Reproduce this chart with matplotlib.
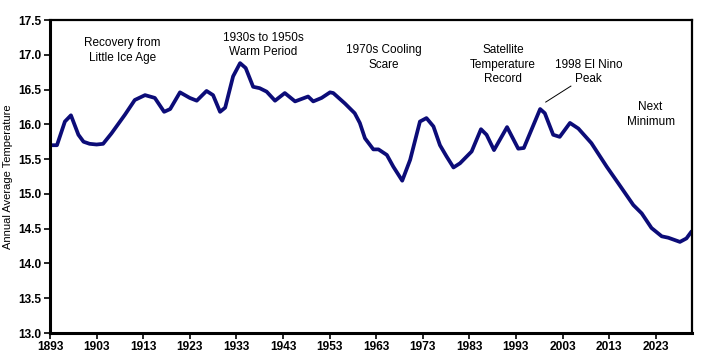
import matplotlib.pyplot as plt

plt.rcParams['font.family'] = ['Liberation Sans', 'DejaVu Sans']

# values
years = [1893, 1894.5, 1896.2, 1897.5, 1899.1, 1900.2, 1901.5, 1903, 1904.4,
         1906.2, 1909.1, 1911.2, 1913.4, 1915.5, 1917.5, 1918.8, 1920.9, 1923,
         1924.5, 1926.6, 1928, 1929.5, 1930.6, 1932.3, 1933.8, 1935, 1936.6,
         1938, 1939.5, 1941.3, 1943.4, 1945.6, 1948.4, 1949.5, 1951.3, 1953.1,
         1953.8, 1956.3, 1958.4, 1959.5, 1960.6, 1962.4, 1963.5, 1965.3, 1966.7,
         1968.6, 1970.3, 1972.4, 1973.8, 1975.3, 1976.7, 1978.1, 1979.6, 1981,
         1983.5, 1985.5, 1986.7, 1988.3, 1991.1, 1993.5, 1994.7, 1998.2, 1999.2,
         2001, 2002.4, 2004.6, 2006.4, 2009.2, 2012.5, 2015, 2018.2, 2020,
         2022.1, 2024.3, 2025.7, 2028.2, 2029.6, 2030.7]
temps = [15.70, 15.70, 16.04, 16.13, 15.85, 15.75, 15.72, 15.71, 15.72,
         15.87, 16.14, 16.35, 16.42, 16.38, 16.18, 16.22, 16.46, 16.38,
         16.34, 16.48, 16.42, 16.18, 16.24, 16.69, 16.88, 16.81, 16.54,
         16.52, 16.47, 16.34, 16.45, 16.33, 16.40, 16.33, 16.38, 16.46,
         16.45, 16.30, 16.16, 16.02, 15.80, 15.64, 15.64, 15.56, 15.39,
         15.19, 15.49, 16.04, 16.09, 15.97, 15.70, 15.54, 15.38, 15.44,
         15.61, 15.93, 15.85, 15.63, 15.96, 15.65, 15.66, 16.22, 16.16,
         15.85, 15.82, 16.02, 15.94, 15.73, 15.39, 15.15, 14.84, 14.72,
         14.51, 14.39, 14.37, 14.31, 14.36, 14.46]

xticks = list(range(1893, 2024, 10))
yticks = [13.0, 13.5, 14.0, 14.5, 15.0, 15.5, 16.0, 16.5, 17.0, 17.5]

fig = plt.figure(figsize=(7.02, 3.56), dpi=100)
ax = fig.add_axes([0.0712, 0.0646, 0.9146, 0.8792])

ax.plot(years, temps, color='#0c0c78', lw=2.7, solid_capstyle='round', solid_joinstyle='round')

ax.set_xlim(1893, 2030.8)
ax.set_ylim(13.0, 17.5)
ax.set_xticks(xticks)
ax.set_yticks(yticks)
ax.set_yticklabels(['%.1f' % v for v in yticks])
ax.tick_params(labelsize=8.6, length=4, width=1.2, pad=2)
for lab in ax.get_xticklabels() + ax.get_yticklabels():
    lab.set_fontweight('bold')

for s in ['left', 'bottom']:
    ax.spines[s].set_linewidth(2.2)
for s in ['top', 'right']:
    ax.spines[s].set_linewidth(1.6)

ax.set_ylabel('Annual Average Temperature', fontsize=8, labelpad=4)

kw = dict(fontsize=8.5, ha='center', va='center', linespacing=1.25)
ax.text(1908.5, 17.06, 'Recovery from\nLittle Ice Age', **kw)
ax.text(1938.7, 17.14, '1930s to 1950s\nWarm Period', **kw)
ax.text(1964.7, 16.96, '1970s Cooling\nScare', **kw)
ax.text(1990.2, 16.86, 'Satellite\nTemperature\nRecord', **kw)
ax.text(2008.6, 16.75, '1998 El Nino\nPeak', **kw)
ax.text(2021.9, 16.14, 'Next\nMinimum', **kw)
ax.plot([1999.4, 2004.8], [16.32, 16.55], color='black', lw=0.7)

fig.savefig('out.png', dpi=100)
